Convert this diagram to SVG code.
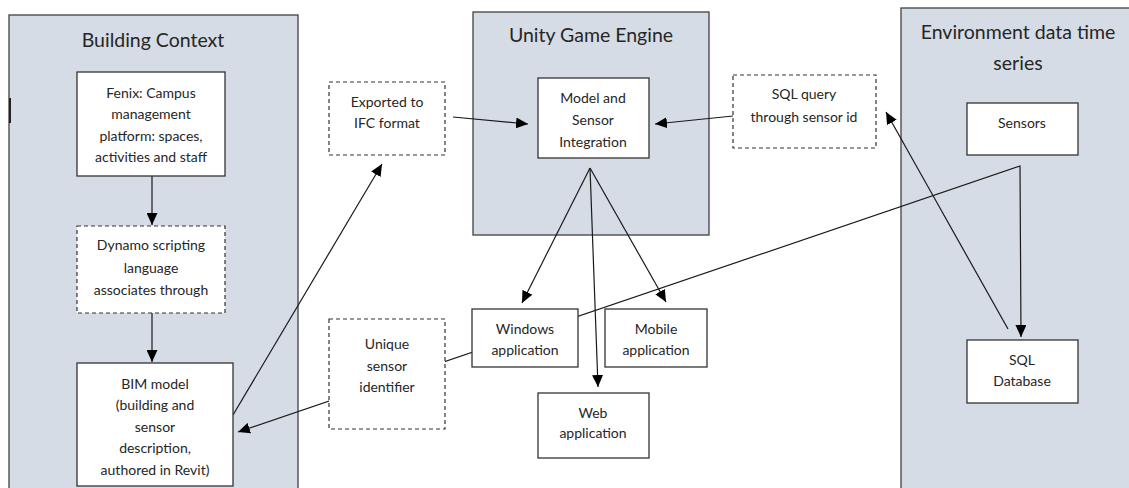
<svg xmlns="http://www.w3.org/2000/svg" width="1129" height="488" viewBox="0 0 1129 488">
<style>
.panel{fill:#d6dce5;stroke:#404040;stroke-width:1.3}
.box{fill:#fff;stroke:#333;stroke-width:1.3}
.dash{fill:#fff;stroke:#333;stroke-width:1.2;stroke-dasharray:4 3}
.t{font-family:Lato,"Liberation Sans",sans-serif;fill:#262626;text-anchor:middle;font-size:14px}
.h{font-family:Lato,"Liberation Sans",sans-serif;fill:#262626;text-anchor:middle;font-size:19.5px}
.c{fill:none;stroke:#1a1a1a;stroke-width:1.2}
</style>
<defs>
<marker id="ah" markerUnits="userSpaceOnUse" markerWidth="13" markerHeight="11" refX="12" refY="5.5" orient="auto-start-reverse" viewBox="0 0 13 11">
<path d="M0,0 L12,5.5 L0,11 z" fill="#000"/>
</marker>
</defs>
<rect width="1129" height="488" fill="#fff"/>
<g id="building-context">
<rect class="panel" x="9" y="15" width="289" height="490"/>
<rect x="9" y="98" width="2" height="25" fill="#222"/>
<text class="h" x="153" y="47">Building Context</text>
</g>
<g id="unity-game-engine">
<rect class="panel" x="473" y="12" width="236" height="223"/>
<text class="h" x="591" y="42">Unity Game Engine</text>
</g>
<g id="environment-data">
<rect class="panel" x="901" y="8" width="240" height="500"/>
<text class="h" x="1018" y="39">Environment data time</text>
<text class="h" x="1018" y="70">series</text>
</g>
<g id="connectors">
<line class="c" x1="152" y1="176" x2="152" y2="225" marker-end="url(#ah)"/>
<line class="c" x1="152" y1="313" x2="152" y2="362" marker-end="url(#ah)"/>
<line class="c" x1="233" y1="415" x2="382" y2="164" marker-end="url(#ah)"/>
<line class="c" x1="453" y1="117" x2="528" y2="124" marker-end="url(#ah)"/>
<line class="c" x1="733" y1="116" x2="655" y2="124" marker-end="url(#ah)"/>
<line class="c" x1="590" y1="168" x2="522" y2="303" marker-end="url(#ah)"/>
<line class="c" x1="590" y1="168" x2="598" y2="387" marker-end="url(#ah)"/>
<line class="c" x1="590" y1="168" x2="666" y2="302" marker-end="url(#ah)"/>
<line class="c" x1="1008" y1="329" x2="886" y2="112" marker-end="url(#ah)"/>
<path class="c" d="M1021,337 L1020,166 L238,432" marker-start="url(#ah)" marker-end="url(#ah)"/>
</g>
<g id="fenix">
<rect class="box" x="77" y="72" width="148" height="104"/>
<text class="t" x="151" y="98">Fenix: Campus</text>
<text class="t" x="151" y="119">management</text>
<text class="t" x="151" y="141">platform: spaces,</text>
<text class="t" x="151" y="162">activities and staff</text>
</g>
<g id="dynamo">
<rect class="dash" x="77" y="226" width="148" height="87"/>
<text class="t" x="151" y="250">Dynamo scripting</text>
<text class="t" x="151" y="273">language</text>
<text class="t" x="151" y="295">associates through</text>
</g>
<g id="bim-model">
<rect class="box" x="77" y="363" width="156" height="123"/>
<text class="t" x="155" y="389">BIM model</text>
<text class="t" x="155" y="410">(building and</text>
<text class="t" x="155" y="432">sensor</text>
<text class="t" x="155" y="453">description,</text>
<text class="t" x="155" y="475">authored in Revit)</text>
</g>
<g id="exported-ifc">
<rect class="dash" x="329" y="82" width="116" height="73"/>
<text class="t" x="387" y="107">Exported to</text>
<text class="t" x="387" y="128">IFC format</text>
</g>
<g id="model-sensor-integration">
<rect class="box" x="538" y="78" width="111" height="80"/>
<text class="t" x="593" y="103">Model and</text>
<text class="t" x="593" y="125">Sensor</text>
<text class="t" x="593" y="147">Integration</text>
</g>
<g id="sql-query">
<rect class="dash" x="733" y="75" width="143" height="73"/>
<text class="t" x="804" y="99">SQL query</text>
<text class="t" x="804" y="122">through sensor id</text>
</g>
<g id="sensors">
<rect class="box" x="967" y="103" width="111" height="52"/>
<text class="t" x="1022" y="128">Sensors</text>
</g>
<g id="sql-database">
<rect class="box" x="967" y="340" width="111" height="63"/>
<text class="t" x="1022" y="365">SQL</text>
<text class="t" x="1022" y="386">Database</text>
</g>
<g id="unique-sensor-identifier">
<rect class="dash" x="329" y="319" width="116" height="110"/>
<text class="t" x="387" y="349">Unique</text>
<text class="t" x="387" y="371">sensor</text>
<text class="t" x="387" y="392">identifier</text>
</g>
<g id="windows-app">
<rect class="box" x="472" y="309" width="106" height="58"/>
<text class="t" x="525" y="334">Windows</text>
<text class="t" x="525" y="355">application</text>
</g>
<g id="mobile-app">
<rect class="box" x="605" y="309" width="102" height="58"/>
<text class="t" x="656" y="334">Mobile</text>
<text class="t" x="656" y="355">application</text>
</g>
<g id="web-app">
<rect class="box" x="538" y="393" width="111" height="65"/>
<text class="t" x="593" y="418">Web</text>
<text class="t" x="593" y="438">application</text>
</g>
</svg>
